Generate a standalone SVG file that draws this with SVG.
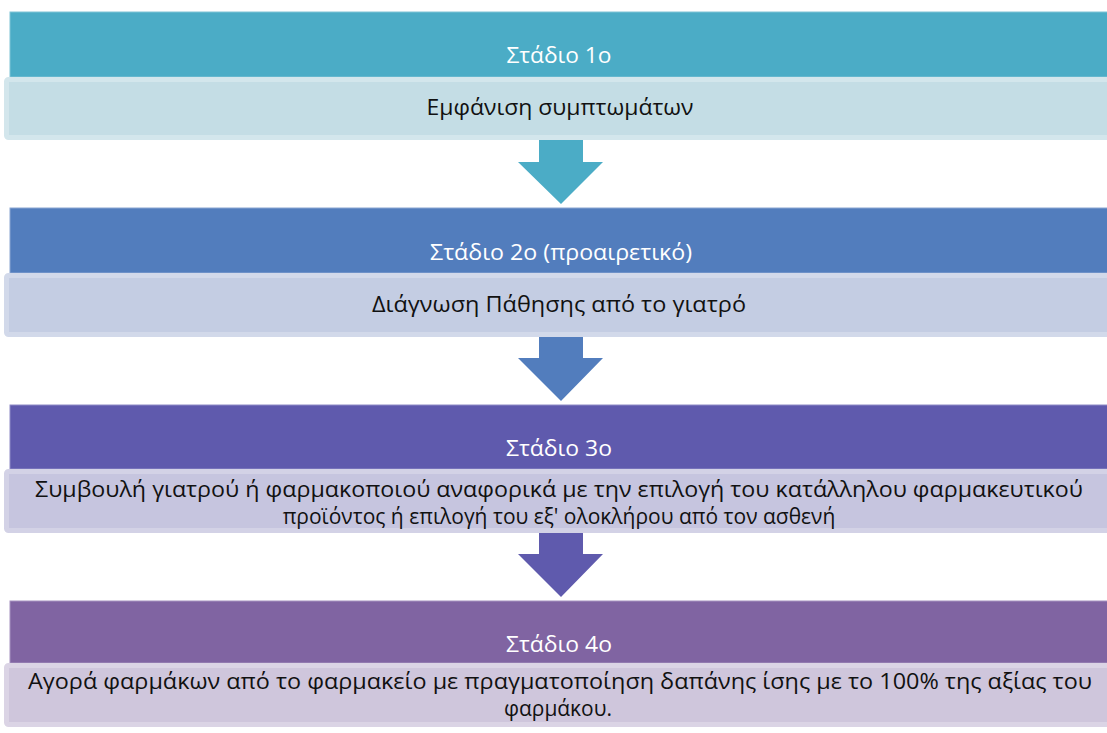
<svg xmlns="http://www.w3.org/2000/svg" width="1107" height="733" viewBox="0 0 1107 733">
<style>
text{font-family:"Open Sans","Noto Sans","DejaVu Sans",sans-serif;font-size:21px;text-anchor:middle}
.h{fill:#ffffff}
.b{fill:#111111}
.box{stroke-width:5}
</style>
<rect width="1107" height="733" fill="#ffffff"/>
<g id="connectors">
<polygon points="539,138 583,138 583,162 603,162 561,204 518,162 539,162" fill="#4bacc6"/>
<polygon points="539,335 583,335 583,358 603,358 561,401 518,358 539,358" fill="#527dbd"/>
<polygon points="539,531 583,531 583,554 603,554 561,597 518,554 539,554" fill="#5f5aad"/>
</g>
<g id="stage1">
<rect x="10" y="12" width="1100" height="65" fill="#4bacc6" stroke="#7fc3d6" stroke-width="1"/>
<rect x="6.5" y="79.5" width="1110" height="58" rx="2" fill="#c4dde5" stroke="#d3e6ec" class="box"/>
<text x="559" y="63" class="h" textLength="105" lengthAdjust="spacingAndGlyphs">Στάδιο 1ο</text>
<text x="560" y="115" class="b" textLength="267" lengthAdjust="spacingAndGlyphs">Εμφάνιση συμπτωμάτων</text>
</g>
<g id="stage2">
<rect x="10" y="208" width="1100" height="65" fill="#527dbd" stroke="#8aa6d2" stroke-width="1"/>
<rect x="6.5" y="275.5" width="1110" height="59" rx="2" fill="#c4cde3" stroke="#d2d9ea" class="box"/>
<text x="561" y="260" class="h" textLength="262" lengthAdjust="spacingAndGlyphs">Στάδιο 2ο (προαιρετικό)</text>
<text x="559" y="312" class="b" textLength="374" lengthAdjust="spacingAndGlyphs">Διάγνωση Πάθησης από το γιατρό</text>
</g>
<g id="stage3">
<rect x="10" y="405" width="1100" height="64" fill="#5f5aad" stroke="#8e8ac6" stroke-width="1"/>
<rect x="6.5" y="471.5" width="1110" height="59" rx="2" fill="#c6c5df" stroke="#d3d2e6" class="box"/>
<text x="559" y="456" class="h" textLength="106" lengthAdjust="spacingAndGlyphs">Στάδιο 3ο</text>
<text x="559" y="497" class="b" textLength="1048" lengthAdjust="spacingAndGlyphs">Συμβουλή γιατρού ή φαρμακοποιού αναφορικά με την επιλογή του κατάλληλου φαρμακευτικού</text>
<text x="559" y="524" class="b">προϊόντος ή επιλογή του εξ' ολοκλήρου από τον ασθενή</text>
</g>
<g id="stage4">
<rect x="10" y="601" width="1100" height="62" fill="#8064a2" stroke="#a591bf" stroke-width="1"/>
<rect x="6.5" y="665.5" width="1110" height="59" rx="2" fill="#cfc6dc" stroke="#dbd4e5" class="box"/>
<text x="559" y="652" class="h" textLength="106" lengthAdjust="spacingAndGlyphs">Στάδιο 4ο</text>
<text x="560" y="689" class="b" textLength="1064" lengthAdjust="spacingAndGlyphs">Αγορά φαρμάκων από το φαρμακείο με πραγματοποίηση δαπάνης ίσης με το 100% της αξίας του</text>
<text x="558" y="716" class="b" textLength="108" lengthAdjust="spacingAndGlyphs">φαρμάκου.</text>
</g>
</svg>
